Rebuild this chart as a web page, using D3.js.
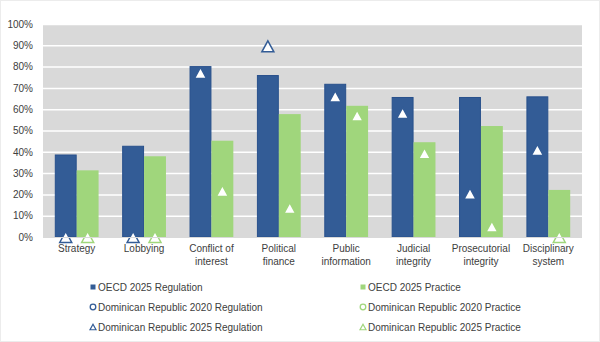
<!DOCTYPE html>
<html><head><meta charset="utf-8">
<script src="https://cdn.jsdelivr.net/npm/d3@7"></script>
<style>body{margin:0;background:#fff}svg{display:block}text{font-family:"Liberation Sans",Arial,sans-serif;fill:#404040}</style>
</head><body><svg id="c" width="600" height="342"></svg>
<script>
const categories = [["Strategy"],["Lobbying"],["Conflict of","interest"],["Political","finance"],["Public","information"],["Judicial","integrity"],["Prosecutorial","integrity"],["Disciplinary","system"]];
const oecdRegulation = [38.5, 42.6, 80, 75.8, 71.7, 65.5, 65.5, 65.8];
const oecdPractice = [31.3, 37.9, 45.2, 57.7, 61.6, 44.5, 52.1, 22.1];
const dr2020Regulation = [null, null, null, null, null, null, null, null];
const dr2020Practice = [null, null, null, null, null, null, null, null];
const dr2025Regulation = [0, 0, 77, 89.5, 66, 58.2, 20.3, 40.9];
const dr2025Practice = [0, 0, 21.6, 13.6, 57, 39.3, 4.9, 0];
const yTicks = [0,10,20,30,40,50,60,70,80,90,100];
const legendLabels = ["OECD 2025 Regulation","OECD 2025 Practice","Dominican Republic 2020 Regulation","Dominican Republic 2020 Practice","Dominican Republic 2025 Regulation","Dominican Republic 2025 Practice"];

const BLUE = "#335C96", BLUE_S = "#28508C", GREEN = "#A0D67C";
const svg = d3.select("#c");
svg.append("rect").attr("x",0.5).attr("y",0.5).attr("width",599).attr("height",341).attr("fill","#fff").attr("stroke","#ececec");

const L = 43, R = 582, T = 24, B = 237;
const x = d3.scaleBand().domain(d3.range(categories.length)).range([L,R]).paddingInner(0.35).paddingOuter(0.175);
const x1 = d3.scaleBand().domain([0,1]).range([0,x.bandwidth()]);
const y = d3.scaleLinear().domain([0,100]).range([B,T]);

svg.append("rect").attr("x",L).attr("y",T).attr("width",R-L).attr("height",B-T).attr("fill","#D9D9D9");
const yAxis = d3.axisLeft(y).tickValues(yTicks).tickFormat(d=>d+"%").tickSize(-(R-L)).tickPadding(10);
const ga = svg.append("g").attr("transform",`translate(${L},0)`).call(yAxis);
ga.select(".domain").remove();
ga.selectAll(".tick line").attr("stroke","#fff").attr("stroke-width",1.5).filter(d=>d===0).remove();
ga.selectAll(".tick text").attr("font-size",10).style("fill","#404040");

// bars
const g = svg.append("g");
g.selectAll(".br").data(oecdRegulation).join("rect")
  .attr("x",(d,i)=>x(i)+x1(0)+0.5).attr("width",x1.bandwidth()-1)
  .attr("y",d=>y(d)).attr("height",d=>B-y(d))
  .attr("fill",BLUE).attr("stroke",BLUE_S).attr("stroke-width",1);
g.selectAll(".bp").data(oecdPractice).join("rect")
  .attr("x",(d,i)=>x(i)+x1(1)).attr("width",x1.bandwidth())
  .attr("y",d=>y(d)).attr("height",d=>B-y(d))
  .attr("fill",GREEN);

// axis baseline
svg.append("line").attr("x1",L).attr("x2",R).attr("y1",B+0.5).attr("y2",B+0.5).attr("stroke","#D9D9D9");

function tri(w,h){return `M0,${-h/2}L${w/2},${h/2}L${-w/2},${h/2}Z`;}
function markers(data, sub, stroke){
  g.append("g").selectAll("path").data(data.map((v,i)=>[v,i]).filter(d=>d[0]!=null)).join("path")
   .attr("d",tri(12,11))
   .attr("transform",d=>`translate(${x(d[1])+x1(sub)+x1.bandwidth()/2},${y(d[0])})`)
   .attr("fill","#fff").attr("stroke",stroke).attr("stroke-width",1.5).attr("stroke-linejoin","miter");
}
function circles(data, sub, stroke){
  g.append("g").selectAll("circle").data(data.map((v,i)=>[v,i]).filter(d=>d[0]!=null)).join("circle")
   .attr("cx",d=>x(d[1])+x1(sub)+x1.bandwidth()/2).attr("cy",d=>y(d[0])).attr("r",5)
   .attr("fill","#fff").attr("stroke",stroke).attr("stroke-width",1.5);
}
circles(dr2020Regulation,0,BLUE);
circles(dr2020Practice,1,GREEN);
markers(dr2025Regulation,0,BLUE);
markers(dr2025Practice,1,GREEN);

// category labels
const cl = svg.append("g");
categories.forEach((c,i)=>{
  const t = cl.append("text").attr("x",x(i)+x.bandwidth()/2).attr("y",252).attr("text-anchor","middle").attr("font-size",10);
  c.forEach((line,j)=>t.append("tspan").attr("x",x(i)+x.bandwidth()/2).attr("dy",j===0?0:13).text(line));
});

// legend
const lg = svg.append("g");
const cols = [93, 363], rows = [287, 307, 327];
legendLabels.forEach((lab,k)=>{
  const cx = cols[k%2], cy = rows[Math.floor(k/2)];
  const col = k%2===0 ? BLUE : GREEN;
  const type = Math.floor(k/2);
  if(type===0) lg.append("rect").attr("x",cx-2.5).attr("y",cy-2.5).attr("width",5).attr("height",5).attr("fill",col);
  else if(type===1) lg.append("circle").attr("cx",cx).attr("cy",cy).attr("r",2.8).attr("fill","#fff").attr("stroke",col).attr("stroke-width",1.3);
  else lg.append("path").attr("d",tri(6,5.5)).attr("transform",`translate(${cx},${cy})`).attr("fill","#fff").attr("stroke",col).attr("stroke-width",1.2);
  lg.append("text").attr("x",cx+5).attr("y",cy+3.5).attr("font-size",10).text(lab);
});
</script></body></html>
